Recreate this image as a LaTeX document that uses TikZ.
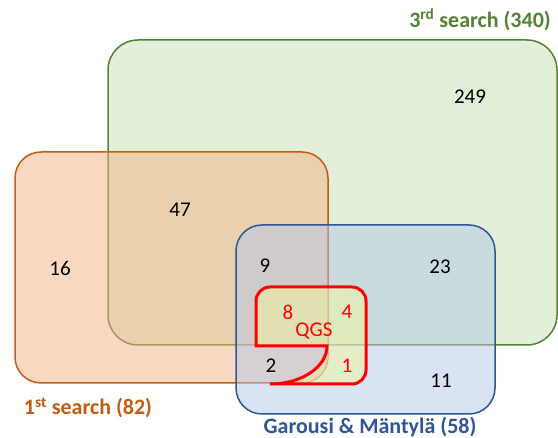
\documentclass[tikz,border=0pt]{standalone}
\usepackage{fontspec}
\setmainfont{Carlito}
\definecolor{grn}{HTML}{548235}
\definecolor{grnfill}{HTML}{C5E0B4}
\definecolor{org}{HTML}{C55A11}
\definecolor{orgfill}{HTML}{F4B183}
\definecolor{blu}{HTML}{2F5597}
\definecolor{blufill}{HTML}{B4C7E7}
\definecolor{qgsfill}{RGB}{250,250,150}
\tikzset{
  setbox/.style={draw, rectangle, line width=1.5pt, fill opacity=0.5, inner sep=0pt},
  num/.style={font=\fontsize{21}{25}\selectfont},
  setlabel/.style={font=\fontsize{22}{26}\selectfont\bfseries}
}
\begin{document}
\begin{tikzpicture}[x=1pt,y=-1pt]
\useasboundingbox (0,0) rectangle (558,438);
% the three searches
\node[setbox,draw=grn,fill=grnfill,rounded corners=30pt,minimum width=449pt,minimum height=305pt] (third) at (332.5,192.5) {};
\node[setbox,draw=org,fill=orgfill,rounded corners=26pt,minimum width=313pt,minimum height=231pt] (first) at (171.5,267.5) {};
\node[setbox,draw=blu,fill=blufill,rounded corners=26pt,minimum width=259pt,minimum height=189pt] (garousi) at (365.5,319.5) {};
% QGS
\draw[red,line width=3pt,fill=qgsfill,fill opacity=0.45] (256,346) [rounded corners=14pt] -- (256,287) -- (366,287) -- (366,384) [sharp corners] -- (270,384) .. controls (301.5,384) and (327,367) .. (327,346) -- cycle;
% counts
\node[num] (n249) at (470,97) {249};
\node[num] (n47) at (180,210) {47};
\node[num] (n16) at (60,268) {16};
\node[num] (n9) at (265,266) {9};
\node[num] (n23) at (440,267) {23};
\node[num,red] (n8) at (288,312) {8};
\node[num,red] (n4) at (347,312) {4};
\node[num,red] (qgs) at (314,331) {QGS};
\node[num] (n2) at (271,366) {2};
\node[num,red] (n1) at (347,366) {1};
\node[num] (n11) at (441,381) {11};
% labels
\node[setlabel,grn,anchor=east,inner sep=0pt] (lthird) at (551,20) {3\textsuperscript{rd} search (340)};
\node[setlabel,org] (lfirst) at (88,408) {1\textsuperscript{st} search (82)};
\node[setlabel,blu] (lgarousi) at (370,427) {Garousi \& Mäntylä (58)};
\end{tikzpicture}
\end{document}
